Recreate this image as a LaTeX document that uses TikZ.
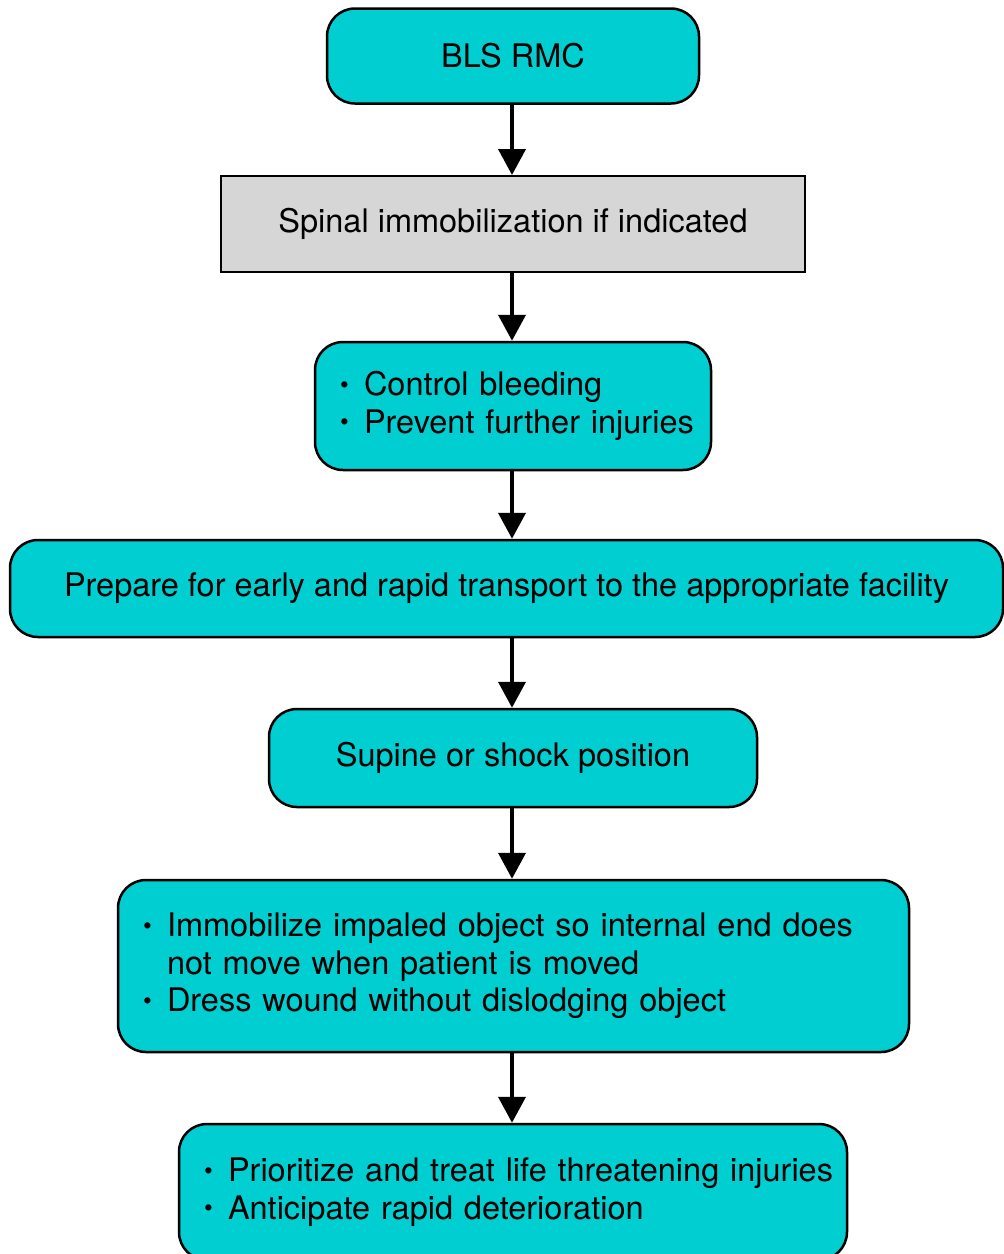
\documentclass[tikz,border=0pt]{standalone}
\usepackage{fontspec}
\setmainfont{TeX Gyre Heros}
\usetikzlibrary{arrows.meta}

\definecolor{bluegreen}{RGB}{0,206,209}
\definecolor{boxgray}{RGB}{214,214,214}
\newcommand{\bul}[1]{\mbox{\makebox[24pt][l]{\raisebox{2.5pt}{\fontsize{25}{25}\selectfont\textbullet}}#1}}
\newcommand{\ind}[1]{\mbox{\hspace*{24pt}#1}}

\begin{document}
\begin{tikzpicture}[x=1pt, y=-1pt,
    stage/.style={draw, line width=2.5pt, rounded corners=28pt, fill=bluegreen,
      font=\fontsize{32.5}{37.5}\selectfont, align=center},
    listbox/.style={stage, align=left, inner xsep=25pt},
    plainbox/.style={draw, line width=2pt, fill=boxgray,
      font=\fontsize{32.5}{37.5}\selectfont},
    flow/.style={-{Triangle[width=27pt,length=26pt]}, line width=4pt}]
  \useasboundingbox (0,0) rectangle (1004,1254);
  \clip (0,0) rectangle (1004,1254);

  \node[stage, minimum width=372, minimum height=95] (bls) at (513,56) {BLS RMC};
  \node[plainbox, minimum width=584, minimum height=96] (spinal) at (513,224)
    {Spinal immobilization if indicated};
  \node[listbox, text width=346, minimum height=128] (bleed) at (513,406)
    {\bul{Control bleeding}\\ \bul{Prevent further injuries}};
  \node[stage, minimum width=993, minimum height=97] (transport) at (506.5,588.5)
    {Prepare for early and rapid transport to the appropriate facility};
  \node[stage, minimum width=488, minimum height=98] (supine) at (513,758)
    {Supine or shock position};
  \node[listbox, text width=741, minimum height=172] (impaled) at (513.5,966)
    {\bul{Immobilize impaled object so internal end does}\\
     \ind{not move when patient is moved}\\
     \bul{Dress wound without dislodging object}};
  \node[listbox, text width=618, minimum height=136] (injuries) at (513,1192)
    {\bul{Prioritize and treat life threatening injuries}\\
     \bul{Anticipate rapid deterioration}};

  % arrows down the middle
  \coordinate (axis) at (512,0);
  \foreach \a/\b in {bls/spinal, spinal/bleed, bleed/transport, transport/supine,
      supine/impaled, impaled/injuries}
    \draw[flow] (\a.south -| axis) -- (\b.north -| axis);
\end{tikzpicture}
\end{document}
